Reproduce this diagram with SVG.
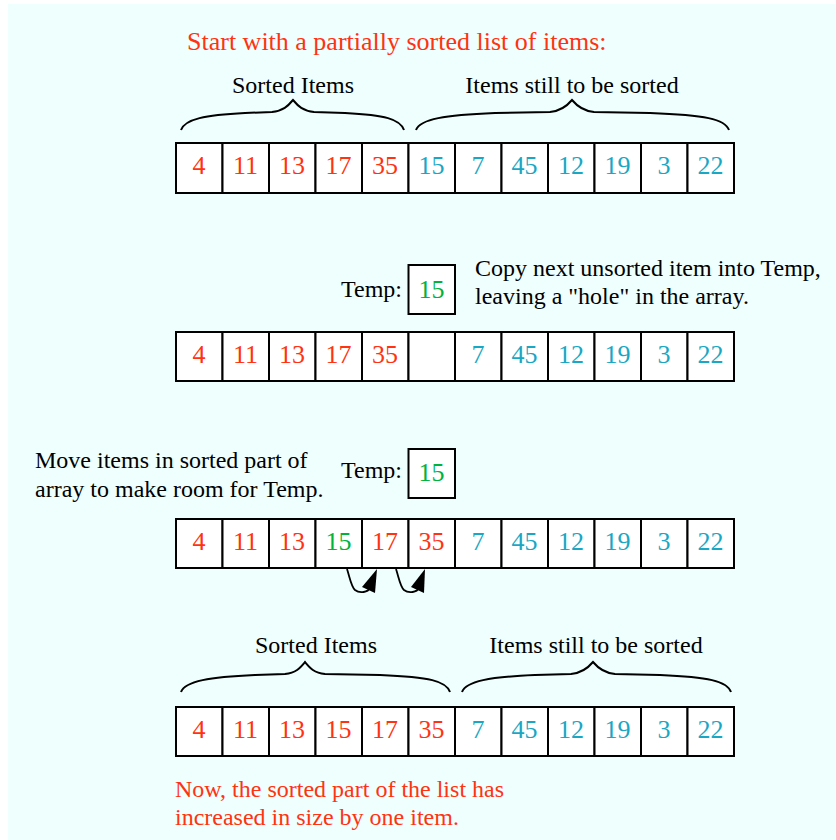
<svg xmlns="http://www.w3.org/2000/svg" width="836" height="840" viewBox="0 0 836 840">
<defs>
<style>
text{font-family:"Liberation Serif","Times New Roman",serif;font-size:24px}
.r{fill:#ff3311}.c{fill:#1aa7c4}.g{fill:#00b33c}.k{fill:#000}
.cell{fill:#fff;stroke:#000;stroke-width:2}
.brace{fill:none;stroke:#000;stroke-width:2}
.n{text-anchor:middle;font-size:26px}
</style>
</defs>
<rect x="8" y="4" width="828" height="836" fill="#eefffe"/>
<text class="r" x="187" y="50" style="font-size:26px">Start with a partially sorted list of items:</text>

<g id="row1">
<rect class="cell" x="176" y="143" width="46.5" height="50"/><rect class="cell" x="222.5" y="143" width="46.5" height="50"/><rect class="cell" x="269" y="143" width="46.5" height="50"/><rect class="cell" x="315.5" y="143" width="46.5" height="50"/><rect class="cell" x="362" y="143" width="46.5" height="50"/><rect class="cell" x="408.5" y="143" width="46.5" height="50"/><rect class="cell" x="455" y="143" width="46.5" height="50"/><rect class="cell" x="501.5" y="143" width="46.5" height="50"/><rect class="cell" x="548" y="143" width="46.5" height="50"/><rect class="cell" x="594.5" y="143" width="46.5" height="50"/><rect class="cell" x="641" y="143" width="46.5" height="50"/><rect class="cell" x="687.5" y="143" width="46.5" height="50"/>
<text class="r n" x="199" y="174">4</text><text class="r n" x="245.5" y="174">11</text><text class="r n" x="292" y="174">13</text><text class="r n" x="338.5" y="174">17</text><text class="r n" x="385" y="174">35</text><text class="c n" x="431.5" y="174">15</text><text class="c n" x="478" y="174">7</text><text class="c n" x="524.5" y="174">45</text><text class="c n" x="571" y="174">12</text><text class="c n" x="617.5" y="174">19</text><text class="c n" x="664" y="174">3</text><text class="c n" x="710.5" y="174">22</text>
</g>
<g id="brace1">
<path class="brace" d="M181,130 C185,119 205,115 245,113 L272,112 C283,111 288,106 293,100 C298,106 303,111 314,112 L345,113 C385,115 400,119 404,130"/>
<text class="k" x="293" y="93" text-anchor="middle">Sorted Items</text>
<path class="brace" d="M416,130 C420,119 445,115 495,113 L550,112 C561,111 567,106 572,100 C577,106 583,111 594,112 L650,113 C705,115 725,119 729,130"/>
<text class="k" x="572" y="93" text-anchor="middle">Items still to be sorted</text>
</g>

<g id="row2">
<rect class="cell" x="176" y="332" width="46.5" height="49"/><rect class="cell" x="222.5" y="332" width="46.5" height="49"/><rect class="cell" x="269" y="332" width="46.5" height="49"/><rect class="cell" x="315.5" y="332" width="46.5" height="49"/><rect class="cell" x="362" y="332" width="46.5" height="49"/><rect class="cell" x="408.5" y="332" width="46.5" height="49"/><rect class="cell" x="455" y="332" width="46.5" height="49"/><rect class="cell" x="501.5" y="332" width="46.5" height="49"/><rect class="cell" x="548" y="332" width="46.5" height="49"/><rect class="cell" x="594.5" y="332" width="46.5" height="49"/><rect class="cell" x="641" y="332" width="46.5" height="49"/><rect class="cell" x="687.5" y="332" width="46.5" height="49"/>
<text class="r n" x="199" y="363">4</text><text class="r n" x="245.5" y="363">11</text><text class="r n" x="292" y="363">13</text><text class="r n" x="338.5" y="363">17</text><text class="r n" x="385" y="363">35</text><text class="c n" x="478" y="363">7</text><text class="c n" x="524.5" y="363">45</text><text class="c n" x="571" y="363">12</text><text class="c n" x="617.5" y="363">19</text><text class="c n" x="664" y="363">3</text><text class="c n" x="710.5" y="363">22</text>
</g>
<g id="temp1">
<text class="k" x="402" y="297" text-anchor="end">Temp:</text>
<rect class="cell" x="408.5" y="265" width="46.5" height="49"/>
<text class="g n" x="431.5" y="298">15</text>
</g>
<g id="note1">
<text class="k" x="475" y="276">Copy next unsorted item into Temp,</text>
<text class="k" x="475" y="304">leaving a "hole" in the array.</text>
</g>

<g id="note2">
<text class="k" x="35" y="468">Move items in sorted part of</text>
<text class="k" x="35" y="497">array to make room for Temp.</text>
</g>
<g id="temp2">
<text class="k" x="402" y="478" text-anchor="end">Temp:</text>
<rect class="cell" x="408.5" y="449" width="46.5" height="49"/>
<text class="g n" x="431.5" y="481">15</text>
</g>
<g id="row3">
<rect class="cell" x="176" y="519" width="46.5" height="49"/><rect class="cell" x="222.5" y="519" width="46.5" height="49"/><rect class="cell" x="269" y="519" width="46.5" height="49"/><rect class="cell" x="315.5" y="519" width="46.5" height="49"/><rect class="cell" x="362" y="519" width="46.5" height="49"/><rect class="cell" x="408.5" y="519" width="46.5" height="49"/><rect class="cell" x="455" y="519" width="46.5" height="49"/><rect class="cell" x="501.5" y="519" width="46.5" height="49"/><rect class="cell" x="548" y="519" width="46.5" height="49"/><rect class="cell" x="594.5" y="519" width="46.5" height="49"/><rect class="cell" x="641" y="519" width="46.5" height="49"/><rect class="cell" x="687.5" y="519" width="46.5" height="49"/>
<text class="r n" x="199" y="550">4</text><text class="r n" x="245.5" y="550">11</text><text class="r n" x="292" y="550">13</text><text class="g n" x="338.5" y="550">15</text><text class="r n" x="385" y="550">17</text><text class="r n" x="431.5" y="550">35</text><text class="c n" x="478" y="550">7</text><text class="c n" x="524.5" y="550">45</text><text class="c n" x="571" y="550">12</text><text class="c n" x="617.5" y="550">19</text><text class="c n" x="664" y="550">3</text><text class="c n" x="710.5" y="550">22</text>
</g>
<g id="connectors">
<path d="M347,569 C350,578 351,586 355,590 C360,594 368,592 370,588" fill="none" stroke="#000" stroke-width="1.8"/>
<path d="M362,587 L377,569 L375,593 z" fill="#000"/>
<path d="M396,569 C399,578 400,586 404,590 C409,594 417,592 419,588" fill="none" stroke="#000" stroke-width="1.8"/>
<path d="M411,587 L425,569 L424,593 z" fill="#000"/>
</g>

<g id="brace2">
<path class="brace" d="M181,692 C185,681 210,677 255,675 L285,674 C296,673 300,668 305,662 C310,668 314,673 325,674 L380,675 C430,677 446,681 450,692"/>
<text class="k" x="316" y="653" text-anchor="middle">Sorted Items</text>
<path class="brace" d="M462,692 C466,681 490,677 535,675 L571,674 C582,673 588,668 593,662 C598,668 604,673 615,674 L660,675 C708,677 727,681 731,692"/>
<text class="k" x="596" y="653" text-anchor="middle">Items still to be sorted</text>
</g>
<g id="row4">
<rect class="cell" x="176" y="707" width="46.5" height="49"/><rect class="cell" x="222.5" y="707" width="46.5" height="49"/><rect class="cell" x="269" y="707" width="46.5" height="49"/><rect class="cell" x="315.5" y="707" width="46.5" height="49"/><rect class="cell" x="362" y="707" width="46.5" height="49"/><rect class="cell" x="408.5" y="707" width="46.5" height="49"/><rect class="cell" x="455" y="707" width="46.5" height="49"/><rect class="cell" x="501.5" y="707" width="46.5" height="49"/><rect class="cell" x="548" y="707" width="46.5" height="49"/><rect class="cell" x="594.5" y="707" width="46.5" height="49"/><rect class="cell" x="641" y="707" width="46.5" height="49"/><rect class="cell" x="687.5" y="707" width="46.5" height="49"/>
<text class="r n" x="199" y="738">4</text><text class="r n" x="245.5" y="738">11</text><text class="r n" x="292" y="738">13</text><text class="r n" x="338.5" y="738">15</text><text class="r n" x="385" y="738">17</text><text class="r n" x="431.5" y="738">35</text><text class="c n" x="478" y="738">7</text><text class="c n" x="524.5" y="738">45</text><text class="c n" x="571" y="738">12</text><text class="c n" x="617.5" y="738">19</text><text class="c n" x="664" y="738">3</text><text class="c n" x="710.5" y="738">22</text>
</g>
<g id="note3">
<text class="r" x="175" y="797">Now, the sorted part of the list has</text>
<text class="r" x="175" y="825">increased in size by one item.</text>
</g>
</svg>
